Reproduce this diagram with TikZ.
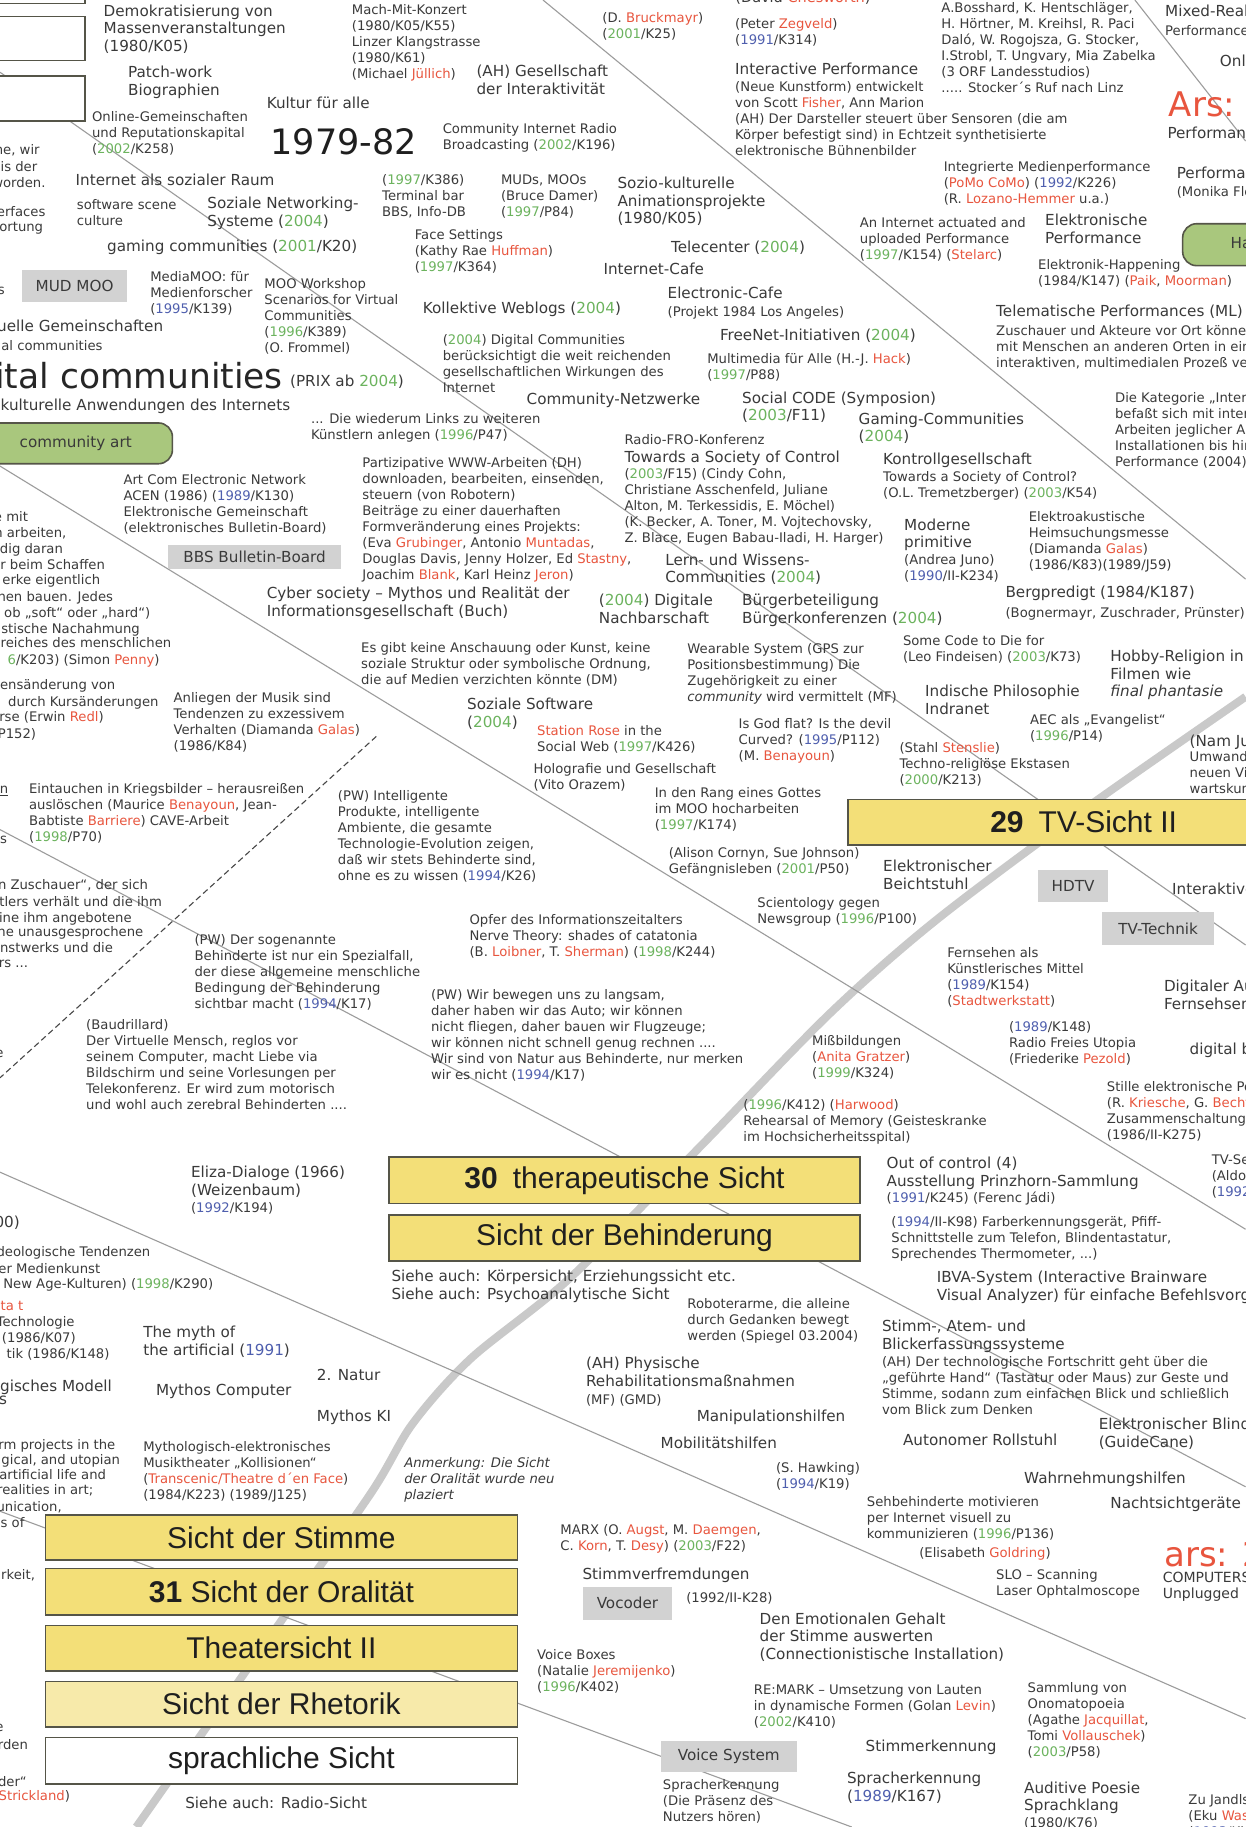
\documentclass[tikz,border=0pt]{standalone}
\usepackage{fontspec}
\setmainfont{DejaVu Sans}
\newfontfamily\dv{DejaVu Sans}
\newfontfamily\ar{Liberation Sans}
\definecolor{txt}{HTML}{3A3A3A}
\definecolor{yg}{HTML}{6CB35E}
\definecolor{yb}{HTML}{4F5FAE}
\definecolor{nr}{HTML}{E8553E}
\definecolor{yel}{HTML}{F3DF78}
\definecolor{yel2}{HTML}{F7EAAA}
\definecolor{gbx}{HTML}{D2D2D2}
\definecolor{grnb}{HTML}{A9C77D}
\definecolor{thinc}{HTML}{9C9C9C}
\definecolor{thickc}{HTML}{C9C9C9}
\definecolor{bord}{HTML}{555548}
\definecolor{bantxt}{HTML}{1F1F1F}
\def\yG#1{\textcolor{yg}{#1}}
\def\yB#1{\textcolor{yb}{#1}}
\def\nR#1{\textcolor{nr}{#1}}
\def\fL{\fontsize{15.2}{17.6}\selectfont}
\def\fS{\fontsize{13.2}{16}\selectfont}
\begin{document}
\begin{tikzpicture}[x=1.16558pt,y=-1.16558pt,
  tS/.style={anchor=north west,inner sep=0pt,outer sep=0pt,align=left,text=txt,font=\dv\fS},
  tL/.style={tS,font=\dv\fL},
  cS/.style={anchor=north east,inner sep=0pt,outer sep=0pt,align=right,text=txt,font=\dv\fS},
  cL/.style={cS,font=\dv\fL},
  thinl/.style={draw=thinc,line width=1.1pt},
  thickl/.style={draw=thickc,line width=8pt},
  lbox/.style={draw=bord,line width=1.6pt,fill=white},
  gboxs/.style={fill=gbx},
  grnbox/.style={draw=bord,line width=1.6pt,fill=grnb,rounded corners=14pt},
  ban/.style={draw=bord,line width=1.6pt},
  bt/.style={inner sep=0pt,font=\ar\fontsize{30}{30}\selectfont,text=bantxt},
  bxt/.style={inner sep=0pt,font=\dv\fL,text=txt},
]
\useasboundingbox (0,0) rectangle (1069,1568);
\fill[white] (0,0) rectangle (1069,1568);

% thick light line
\draw[thickl] plot[smooth] coordinates {(117,1568) (228,1410) (318,1282) (354,1222) (404,1166) (489,1097) (600,985) (712,870) (803,790) (930,695) (1069,598)};
% thin lines
\coordinate (l1a) at (466,0);   \coordinate (l1b) at (1069,497);
\coordinate (l2a) at (0,62);    \coordinate (l2b) at (1069,811);
\coordinate (l3a) at (0,400);   \coordinate (l3b) at (1069,1055);
\coordinate (l4a) at (0,712);   \coordinate (l4b) at (1069,1276);
\coordinate (l5a) at (0,1006);  \coordinate (l5b) at (1069,1475);
\coordinate (l6a) at (0,1297);  \coordinate (l6b) at (731,1568);
\coordinate (l8a) at (974,0);   \coordinate (l8b) at (1069,121);
\coordinate (l7a) at (323,632); \coordinate (l7b) at (0,925);
\draw[thinl] (l1a) -- (l1b);
\draw[thinl] (l2a) -- (l2b);
\draw[thinl] (l3a) -- (l3b);
\draw[thinl] (l4a) -- (l4b);
\draw[thinl] (l5a) -- (l5b);
\draw[thinl] (l6a) -- (l6b);
\draw[thinl] (l8a) -- (l8b);
\draw[draw=black!72,line width=1.1pt,dash pattern=on 6pt off 3.5pt] (l7a) -- (l7b);

% left boxes
\draw[lbox] (-5,-20) rectangle (73,3);
\draw[lbox] (-5,14) rectangle (73,52);
\draw[lbox] (-5,65) rectangle (73,104);
% gray boxes
\fill[gboxs] (19,232) rectangle (109,259);
\node[bxt] (mud) at (64,245.5) {MUD MOO};
\fill[gboxs] (144,468) rectangle (293,488);
\node[bxt] (bbs) at (218.5,478) {BBS Bulletin-Board};
\fill[gboxs] (891,747) rectangle (951,774);
\node[bxt] (hdtv) at (921,760.5) {HDTV};
\fill[gboxs] (946,783) rectangle (1042,811);
\node[bxt] (tvt) at (994,797) {TV-Technik};
\fill[gboxs] (500,1362) rectangle (577,1390);
\node[bxt] (voc) at (538.5,1376) {Vocoder};
\fill[gboxs] (567,1494) rectangle (684,1521);
\node[bxt] (vsys) at (625.5,1507.5) {Voice System};
% green boxes
\draw[grnbox] (-20,363) rectangle (148,398);
\node[bxt] (cart) at (65,380.5) {community art};
\draw[grnbox] (1015,192) rectangle (1095,228);
\node[bxt,anchor=west] (happ) at (1056,210) {Happening};
% banners
\draw[ban,fill=yel] (728,686) rectangle (1080,725);
\node[bt] (b29) at (930,705.5) {\textbf{29}\enspace TV-Sicht II};
\draw[ban,fill=yel] (334,993) rectangle (738,1033);
\node[bt] (b30) at (536,1013) {\textbf{30}\enspace therapeutische Sicht};
\draw[ban,fill=yel] (334,1043) rectangle (738,1082);
\node[bt] (bbeh) at (536,1062.5) {Sicht der Behinderung};
\draw[ban,fill=yel] (39,1300) rectangle (444,1339);
\node[bt] (bsti) at (241.5,1319.5) {Sicht der Stimme};
\draw[ban,fill=yel] (39,1346) rectangle (444,1386);
\node[bt] (b31) at (241.5,1366) {\textbf{31} Sicht der Oralität};
\draw[ban,fill=yel] (39,1395) rectangle (444,1434);
\node[bt] (bthe) at (241.5,1414.5) {Theatersicht II};
\draw[ban,fill=yel2] (39,1443) rectangle (444,1482);
\node[bt] (brhe) at (241.5,1462.5) {Sicht der Rhetorik};
\draw[ban,fill=white] (39,1491) rectangle (444,1531);
\node[bt] (bspr) at (241.5,1511) {sprachliche Sicht};

% ---- big texts
\node[anchor=north west,inner sep=0pt,font=\dv\fontsize{35}{35}\selectfont,text=black!88] (y79) at (232,110) {1979-82};
\node[anchor=base east,inner sep=0pt,font=\dv\fontsize{34.5}{34.5}\selectfont,text=black!85] (digc) at (243,333) {digital communities};
\node[tL] (prix) at (249,322) {(PRIX ab \yG{2004})};
\node[anchor=base west,inner sep=0pt,font=\dv\fontsize{34}{34}\selectfont,text=nr] (ars1) at (1003,100) {Ars:};
\node[anchor=base west,inner sep=0pt,font=\dv\fontsize{34}{34}\selectfont,text=nr] (ars2) at (999,1344) {ars: 2004};

% ---- left cut texts
\node[cS] (c1) at (34,124) {he, wir};
\node[cS] (c2) at (32,139) {is der};
\node[cS] (c3) at (39,152) {worden.};
\node[cS] (c4) at (39,177) {erfaces};
\node[cS] (c5) at (37,191) {ortung};
\node[cS] (c6) at (4,246) {s};
\node[cL] (c7) at (140,275) {Virtuelle Gemeinschaften};
\node[cS] (c8) at (88,292) {Virtual communities};
\node[cL] (c9) at (249,342) {Soziokulturelle Anwendungen des Internets};
\node[cS] (d1) at (24,439) {e mit};
\node[cS] (d2) at (57,453) {n arbeiten,};
\node[cS] (d3) at (54,466) {dig daran};
\node[cS] (d4) at (90,480) {r beim Schaffen};
\node[cS] (d5) at (86,493) {erke eigentlich};
\node[cS] (d6) at (97,508) {nen bauen. Jedes};
\node[cS] (d7) at (129,521) {ob „soft“ oder „hard“)};
\node[cS] (d8) at (120,535) {istische Nachahmung};
\node[cS] (d9) at (147,547) {ereiches des menschlichen};
\node[cS] (d10) at (137,562) {\yG{6}/K203) (Simon \nR{Penny})};
\node[cS] (e1) at (99,583) {ensänderung von};
\node[cS] (e2) at (136,598) {durch Kursänderungen};
\node[cS] (e3) at (89,611) {rse (Erwin \nR{Redl})};
\node[cS] (e4) at (31,625) {P152)};
\node[cS] (e5) at (7,675) {\underline{n}};
\node[cS] (e6) at (6,718) {s};
\node[cS] (f1) at (127,755) {n Zuschauer“, der sich};
\node[cS] (f2) at (139,769) {tlers verhält und die ihm};
\node[cS] (f3) at (113,783) {ine ihm angebotene};
\node[cS] (f4) at (123,795) {ne unausgesprochene};
\node[cS] (f5) at (97,809) {nstwerks und die};
\node[cS] (f6) at (24,824) {rs ...};
\node[cS] (f7) at (3,901) {e};
\node[cL] (g1) at (17,1044) {00)};
\node[cS] (g2) at (129,1070) {deologische Tendenzen};
\node[cS] (g3) at (86,1084) {er Medienkunst};
\node[cS] (g4) at (183,1097) {New Age-Kulturen) (\yG{1998}/K290)};
\node[cS,text=nr] (g5) at (20,1117) {ta t};
\node[cS] (g6) at (64,1130) {Technologie};
\node[cS] (g7) at (65,1144) {(1986/K07)};
\node[cS] (g8) at (94,1157) {tik (1986/K148)};
\node[cL] (h1) at (96,1184) {gisches Modell};
\node[cL] (h2) at (6,1198) {s};
\node[cS] (h3) at (99,1235) {rm projects in the};
\node[cS] (h4) at (103,1248) {gical, and utopian};
\node[cS] (h5) at (91,1261) {artificial life and};
\node[cS] (h6) at (80,1274) {realities in art;};
\node[cS] (h7) at (53,1289) {unication,};
\node[cS] (h8) at (21,1302) {es of};
\node[cS] (h9) at (30,1347) {rkeit,};
\node[cS] (h10) at (3,1480) {e};
\node[cS] (h11) at (24,1493) {rden};
\node[cS] (h12) at (23,1525) {lder“};
\node[cS] (h13) at (60,1537) {\nR{Strickland})};

% ---- top left / middle
\node[tL] (t1) at (89,4) {Demokratisierung von\\Massenveranstaltungen\\(1980/K05)};
\node[tL] (t2) at (110,57) {Patch-work\\Biographien};
\node[tS] (t3) at (79,96) {Online-Gemeinschaften\\und Reputationskapital\\(\yG{2002}/K258)};
\node[tL] (t4) at (229,83) {Kultur für alle};
\node[tL] (t5) at (65,149) {Internet als sozialer Raum};
\node[tS] (t6) at (66,171) {software scene\\culture};
\node[tL] (t7) at (178,169) {Soziale Networking-\\Systeme (\yG{2004})};
\node[tL] (t8) at (92,206) {gaming communities (\yG{2001}/K20)};
\node[tS] (t9) at (129,233) {MediaMOO: für\\Medienforscher\\(\yB{1995}/K139)};
\node[tS] (t10) at (227,239) {MOO Workshop\\Scenarios for Virtual\\Communities\\(\yG{1996}/K389)\\(O. Frommel)};
\node[tS] (t11) at (302,4) {Mach-Mit-Konzert\\(1980/K05/K55)\\Linzer Klangstrasse\\(1980/K61)\\(Michael \nR{Jüllich})};
\node[tL] (t12) at (409,56) {(AH) Gesellschaft\\der Interaktivität};
\node[tS] (t13) at (517,11) {(D. \nR{Bruckmayr})\\(\yG{2001}/K25)};
\node[tS] (t14) at (380,106) {Community Internet Radio\\Broadcasting (\yG{2002}/K196)};
\node[tS] (t15) at (328,150) {(\yG{1997}/K386)\\Terminal bar\\BBS, Info-DB};
\node[tS] (t16) at (430,150) {MUDs, MOOs\\(Bruce Damer)\\(\yG{1997}/P84)};
\node[tL] (t17) at (530,152) {Sozio-kulturelle\\Animationsprojekte\\(1980/K05)};
\node[tS] (t18) at (356,197) {Face Settings\\(Kathy Rae \nR{Huffman})\\(\yG{1997}/K364)};
\node[tL] (t19) at (576,207) {Telecenter (\yG{2004})};
\node[tL] (t20) at (518,226) {Internet-Cafe};
\node[tL] (t21) at (363,259) {Kollektive Weblogs (\yG{2004})};
\node[tL] (t22) at (573,246) {Electronic-Cafe};
\node[tS] (t23) at (573,263) {(Projekt 1984 Los Angeles)};
\node[tS] (t24) at (380,287) {(\yG{2004}) Digital Communities\\berücksichtigt die weit reichenden\\gesellschaftlichen Wirkungen des\\Internet};
\node[tL] (t25) at (618,282) {FreeNet-Initiativen (\yG{2004})};
\node[tS] (t26) at (607,303) {Multimedia für Alle (H.-J. \nR{Hack})\\(\yG{1997}/P88)};
\node[tL] (t27) at (452,337) {Community-Netzwerke};
\node[tL] (t28) at (637,336) {Social CODE (Symposion)\\(\yG{2003}/F11)};
\node[tS] (t29) at (267,355) {... Die wiederum Links zu weiteren\\Künstlern anlegen (\yG{1996}/P47)};
\node[tL] (t30) at (737,354) {Gaming-Communities\\(\yG{2004})};
\node[tS] (t31) at (536,373) {Radio-FRO-Konferenz};
\node[tL] (t32) at (536,387) {Towards a Society of Control};
\node[tS] (t33) at (536,402) {(\yG{2003}/F15) (Cindy Cohn,\\Christiane Asschenfeld, Juliane\\Alton, M. Terkessidis, E. Möchel)\\(K. Becker, A. Toner, M. Vojtechovsky,\\Z. Blace, Eugen Babau-Iladi, H. Harger)};
\node[tL] (t34) at (758,389) {Kontrollgesellschaft};
\node[tS] (t35) at (758,405) {Towards a Society of Control?\\(O.L. Tremetzberger) (\yG{2003}/K54)};
\node[tS] (t36) at (311,393) {Partizipative WWW-Arbeiten (DH)\\downloaden, bearbeiten, einsenden,\\steuern (von Robotern)\\Beiträge zu einer dauerhaften\\Formveränderung eines Projekts:\\(Eva \nR{Grubinger}, Antonio \nR{Muntadas},\\Douglas Davis, Jenny Holzer, Ed \nR{Stastny},\\Joachim \nR{Blank}, Karl Heinz \nR{Jeron})};
\node[tS] (t37) at (106,407) {Art Com Electronic Network\\ACEN (1986) (\yB{1989}/K130)\\Elektronische Gemeinschaft\\(elektronisches Bulletin-Board)};
\node[tL] (t38) at (229,504) {Cyber society – Mythos und Realität der\\Informationsgesellschaft (Buch)};
\node[tL] (t39) at (571,475) {Lern- und Wissens-\\Communities (\yG{2004})};
\node[tL] (t40) at (776,445) {Moderne\\primitive};
\node[tS] (t41) at (776,476) {(Andrea Juno)\\(\yB{1990}/II-K234)};
\node[tS] (t42) at (883,439) {Elektroakustische\\Heimsuchungsmesse\\(Diamanda \nR{Galas})\\(1986/K83)(1989/J59)};
\node[tL] (t43) at (514,510) {(\yG{2004}) Digitale\\Nachbarschaft};
\node[tL] (t44) at (637,510) {Bürgerbeteiligung\\Bürgerkonferenzen (\yG{2004})};
\node[tL] (t45) at (863,503) {Bergpredigt (1984/K187)};
\node[tS] (t46) at (863,521) {(Bognermayr, Zuschrader, Prünster)};
\node[tS] (t47) at (310,551) {Es gibt keine Anschauung oder Kunst, keine\\soziale Struktur oder symbolische Ordnung,\\die auf Medien verzichten könnte (DM)};
\node[tS] (t48) at (590,552) {Wearable System (GPS zur\\Positionsbestimmung) Die\\Zugehörigkeit zu einer\\\textit{community} wird vermittelt (MF)};
\node[tS] (t49) at (775,545) {Some Code to Die for\\(Leo Findeisen) (\yG{2003}/K73)};
\node[tL] (t50) at (953,558) {Hobby-Religion in\\Filmen wie\\\textit{final phantasie}};
\node[tS] (t51) at (149,594) {Anliegen der Musik sind\\Tendenzen zu exzessivem\\Verhalten (Diamanda \nR{Galas})\\(1986/K84)};
\node[tL] (t52) at (401,599) {Soziale Software\\(\yG{2004})};
\node[tL] (t53) at (794,588) {Indische Philosophie\\Indranet};
\node[tS] (t54) at (461,623) {\nR{Station Rose} in the\\Social Web (\yG{1997}/K426)};
\node[tS] (t55) at (634,617) {Is God flat? Is the devil\\Curved? (\yB{1995}/P112)\\(M. \nR{Benayoun})};
\node[tS] (t56) at (884,613) {AEC als „Evangelist“\\(\yG{1996}/P14)};
\node[tS] (t57) at (772,637) {(Stahl \nR{Stenslie})\\Techno-religiöse Ekstasen\\(\yG{2000}/K213)};
\node[tL] (t58) at (1021,631) {(Nam June Paik)};
\node[tS] (t59) at (1021,645) {Umwandlung der\\neuen Videokunst\\wartskunst};
\node[tS] (t60) at (458,655) {Holografie und Gesellschaft\\(Vito Orazem)};
\node[tS] (t61) at (562,676) {In den Rang eines Gottes\\im MOO hocharbeiten\\(\yG{1997}/K174)};
\node[tS] (t62) at (25,672) {Eintauchen in Kriegsbilder – herausreißen\\auslöschen (Maurice \nR{Benayoun}, Jean-\\Babtiste \nR{Barriere}) CAVE-Arbeit\\(\yG{1998}/P70)};
\node[tS] (t63) at (290,678) {(PW) Intelligente\\Produkte, intelligente\\Ambiente, die gesamte\\Technologie-Evolution zeigen,\\daß wir stets Behinderte sind,\\ohne es zu wissen (\yB{1994}/K26)};
\node[tS] (t64) at (574,727) {(Alison Cornyn, Sue Johnson)\\Gefängnisleben (\yG{2001}/P50)};
\node[tL] (t65) at (758,738) {Elektronischer\\Beichtstuhl};
\node[tL] (t66) at (1006,758) {Interaktives Fernsehen};
\node[tS] (t67) at (650,770) {Scientology gegen\\Newsgroup (\yG{1996}/P100)};
\node[tS] (t68) at (167,802) {(PW) Der sogenannte\\Behinderte ist nur ein Spezialfall,\\der diese allgemeine menschliche\\Bedingung der Behinderung\\sichtbar macht (\yB{1994}/K17)};
\node[tS] (t69) at (403,785) {Opfer des Informationszeitalters\\Nerve Theory: shades of catatonia\\(B. \nR{Loibner}, T. \nR{Sherman}) (\yG{1998}/K244)};
\node[tS] (t70) at (813,813) {Fernsehen als\\Künstlerisches Mittel\\(\yB{1989}/K154)\\(\nR{Stadtwerkstatt})};
\node[tL] (t71) at (999,841) {Digitaler Ausbau\\Fernsehsender};
\node[tS] (t72) at (866,877) {(\yB{1989}/K148)\\Radio Freies Utopia\\(Friederike \nR{Pezold})};
\node[tS] (t73) at (697,889) {Mißbildungen\\(\nR{Anita Gratzer})\\(\yG{1999}/K324)};
\node[tL] (t74) at (1021,895) {digital broadcasting};
\node[tS] (t75) at (74,875) {(Baudrillard)\\Der Virtuelle Mensch, reglos vor\\seinem Computer, macht Liebe via\\Bildschirm und seine Vorlesungen per\\Telekonferenz. Er wird zum motorisch\\und wohl auch zerebral Behinderten ....};
\node[tS] (t76) at (370,849) {(PW) Wir bewegen uns zu langsam,\\daher haben wir das Auto; wir können\\nicht fliegen, daher bauen wir Flugzeuge;\\wir können nicht schnell genug rechnen ....\\Wir sind von Natur aus Behinderte, nur merken\\wir es nicht (\yB{1994}/K17)};
\node[tS] (t77) at (950,928) {Stille elektronische Post\\(R. \nR{Kriesche}, G. \nR{Bechtold})\\Zusammenschaltung von\\(1986/II-K275)};
\node[tS] (t78) at (638,944) {(\yG{1996}/K412) (\nR{Harwood})\\Rehearsal of Memory (Geisteskranke\\im Hochsicherheitsspital)};
\node[tL] (t79) at (164,1001) {Eliza-Dialoge (1966)\\(Weizenbaum)};
\node[tS] (t80) at (164,1032) {(\yB{1992}/K194)};
\node[tL] (t81) at (761,993) {Out of control (4)\\Ausstellung Prinzhorn-Sammlung};
\node[tS] (t82) at (761,1023) {(\yB{1991}/K245) (Ferenc Jádi)};
\node[tS] (t83) at (1040,991) {TV-Sendung\\(Aldo Tambellini)\\(\yB{1992}/K)};
\node[tS] (t84) at (765,1044) {(\yB{1994}/II-K98) Farberkennungsgerät, Pfiff-\\Schnittstelle zum Telefon, Blindentastatur,\\Sprechendes Thermometer, ...)};
\node[tL] (t85) at (336,1090) {Siehe auch: Körpersicht, Erziehungssicht etc.\\Siehe auch: Psychoanalytische Sicht};
\node[tS] (t86) at (590,1114) {Roboterarme, die alleine\\durch Gedanken bewegt\\werden (Spiegel 03.2004)};
\node[tL] (t87) at (804,1091) {IBVA-System (Interactive Brainware\\Visual Analyzer) für einfache Befehlsvorgaben};
\node[tL] (t88) at (757,1133) {Stimm-, Atem- und\\Blickerfassungssysteme};
\node[tS] (t89) at (757,1164) {(AH) Der technologische Fortschritt geht über die\\„geführte Hand“ (Tastatur oder Maus) zur Geste und\\Stimme, sodann zum einfachen Blick und schließlich\\vom Blick zum Denken};
\node[tL] (t90) at (123,1138) {The myth of\\the artificial (\yB{1991})};
\node[tL] (t91) at (134,1188) {Mythos Computer};
\node[tL] (t92) at (272,1175) {2. Natur};
\node[tL] (t93) at (272,1210) {Mythos KI};
\node[tL] (t94) at (503,1165) {(AH) Physische\\Rehabilitationsmaßnahmen};
\node[tS] (t95) at (503,1197) {(MF) (GMD)};
\node[tL] (t96) at (598,1210) {Manipulationshilfen};
\node[tL] (t97) at (567,1233) {Mobilitätshilfen};
\node[tL] (t98) at (775,1231) {Autonomer Rollstuhl};
\node[tL] (t99) at (943,1217) {Elektronischer Blindenstock\\(GuideCane)};
\node[tS] (t100) at (666,1255) {(S. Hawking)\\(\yB{1994}/K19)};
\node[tL] (t101) at (879,1263) {Wahrnehmungshilfen};
\node[tL] (t102) at (953,1285) {Nachtsichtgeräte};
\node[tS] (t103) at (744,1284) {Sehbehinderte motivieren\\per Internet visuell zu\\kommunizieren (\yG{1996}/P136)};
\node[tS] (t104) at (789,1328) {(Elisabeth \nR{Goldring})};
\node[tS] (t105) at (123,1237) {Mythologisch-elektronisches\\Musiktheater „Kollisionen“\\(\nR{Transcenic/Theatre d´en Face})\\(1984/K223) (1989/J125)};
\node[tS,font=\dv\fS\itshape] (t106) at (347,1251) {Anmerkung: Die Sicht\\der Oralität wurde neu\\plaziert};
\node[tS] (t107) at (481,1308) {MARX (O. \nR{Augst}, M. \nR{Daemgen},\\C. \nR{Korn}, T. \nR{Desy}) (\yG{2003}/F22)};
\node[tL] (t108) at (500,1346) {Stimmverfremdungen};
\node[tS] (t109) at (589,1367) {(1992/II-K28)};
\node[tL] (t110) at (652,1384) {Den Emotionalen Gehalt\\der Stimme auswerten\\(Connectionistische Installation)};
\node[tS] (t111) at (855,1347) {SLO – Scanning\\Laser Ophtalmoscope};
\node[tS,font=\dv\fontsize{14}{16.5}\selectfont] (t112) at (998,1349) {COMPUTERS\\Unplugged};
\node[tS] (t113) at (461,1416) {Voice Boxes\\(Natalie \nR{Jeremijenko})\\(\yG{1996}/K402)};
\node[tS] (t114) at (647,1446) {RE:MARK – Umsetzung von Lauten\\in dynamische Formen (Golan \nR{Levin})\\(\yG{2002}/K410)};
\node[tS] (t115) at (882,1444) {Sammlung von\\Onomatopoeia\\(Agathe \nR{Jacquillat},\\Tomi \nR{Vollauschek})\\(\yG{2003}/P58)};
\node[tL] (t116) at (743,1493) {Stimmerkennung};
\node[tS] (t117) at (569,1527) {Spracherkennung\\(Die Präsenz des\\Nutzers hören)};
\node[tL] (t118) at (727,1521) {Spracherkennung\\(\yB{1989}/K167)};
\node[tL] (t119) at (879,1529) {Auditive Poesie\\Sprachklang};
\node[tS] (t120) at (879,1560) {(1980/K76)};
\node[tS] (t121) at (1020,1540) {Zu Jandls\\(Eku \nR{Wastl})\\(\yB{1993}/K)};
\node[tL] (t122) at (159,1542) {Siehe auch: Radio-Sicht};

% ---- top right
\node[anchor=base west,inner sep=0pt,text=txt,font=\dv\fontsize{14.5}{17}\selectfont] (t123) at (631,2) {(David \nR{Chesworth})};
\node[tS] (t124) at (631,16) {(Peter \nR{Zegveld})\\(\yB{1991}/K314)};
\node[tL] (t125) at (631,54) {Interactive Performance};
\node[tS] (t126) at (631,70) {(Neue Kunstform) entwickelt\\von Scott \nR{Fisher}, Ann Marion\\(AH) Der Darsteller steuert über Sensoren (die am\\Körper befestigt sind) in Echtzeit synthetisierte\\elektronische Bühnenbilder};
\node[tS] (t127) at (808,2) {A.Bosshard, K. Hentschläger,\\H. Hörtner, M. Kreihsl, R. Paci\\Daló, W. Rogojsza, G. Stocker,\\I.Strobl, T. Ungvary, Mia Zabelka\\(3 ORF Landesstudios)\\..... Stocker´s Ruf nach Linz};
\node[tL] (t128) at (1000,4) {Mixed-Reality};
\node[tS] (t129) at (1000,22) {Performance};
\node[tL] (t130) at (1047,47) {Online};
\node[tL] (t131) at (1002,109) {Performance};
\node[tS] (t132) at (810,139) {Integrierte Medienperformance\\(\nR{PoMo CoMo}) (\yB{1992}/K226)\\(R. \nR{Lozano-Hemmer} u.a.)};
\node[tL] (t133) at (1010,143) {Performance};
\node[tS] (t134) at (1010,160) {(Monika Fleischmann)};
\node[tS] (t135) at (738,187) {An Internet actuated and\\uploaded Performance\\(\yG{1997}/K154) (\nR{Stelarc})};
\node[tL] (t136) at (897,184) {Elektronische\\Performance};
\node[tS] (t137) at (891,223) {Elektronik-Happening\\(1984/K147) (\nR{Paik}, \nR{Moorman})};
\node[tL] (t138) at (855,262) {Telematische Performances (ML)};
\node[tS] (t139) at (855,279) {Zuschauer und Akteure vor Ort können\\mit Menschen an anderen Orten in einem\\interaktiven, multimedialen Prozeß verbunden};
\node[tS] (t140) at (957,337) {Die Kategorie „Interactive Art“\\befaßt sich mit interaktiven\\Arbeiten jeglicher Art, von\\Installationen bis hin zur\\Performance (2004)};
\end{tikzpicture}
\end{document}
